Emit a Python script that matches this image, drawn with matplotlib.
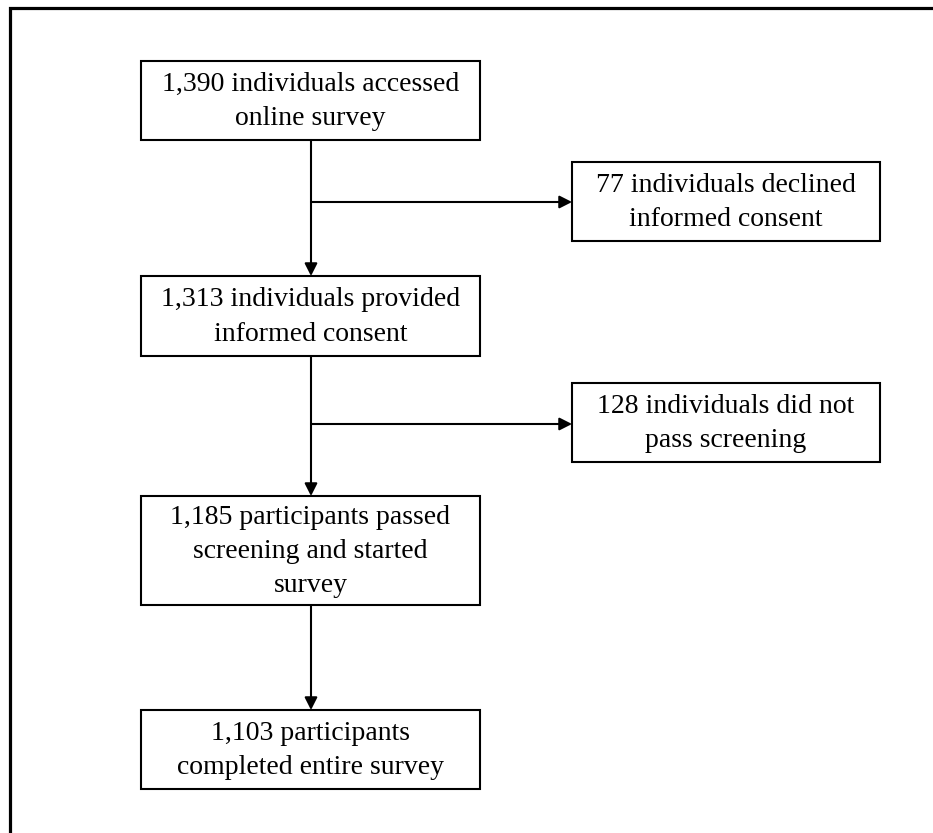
import matplotlib.pyplot as plt
from matplotlib.patches import Rectangle

# flowchart text
main_steps = ["1,390 individuals accessed\nonline survey",
              "1,313 individuals provided\ninformed consent",
              "1,185 participants passed\nscreening and started\nsurvey",
              "1,103 participants\ncompleted entire survey"]
exclusions = ["77 individuals declined\ninformed consent",
              "128 individuals did not\npass screening"]

# layout in pixels (y down)
main_x = (141, 480)
main_y = [(61, 140), (276, 356), (496, 605), (710, 789)]
excl_x = (572, 880)
excl_y = [(162, 241), (383, 462)]
branch_y = [202, 424]

fig = plt.figure(figsize=(9.33, 8.33), dpi=100)
ax = fig.add_axes([0, 0, 1, 1])
ax.set_xlim(0, 933)
ax.set_ylim(833, 0)
ax.axis('off')

font = dict(family=['Liberation Serif', 'DejaVu Serif'], fontsize=20,
            ha='center', va='center', linespacing=1.5)
lw = 1.5


def box(x0, x1, y0, y1, text):
    ax.add_patch(Rectangle((x0, y0), x1 - x0, y1 - y0, fill=False,
                           edgecolor='black', linewidth=lw))
    ax.text((x0 + x1) / 2, (y0 + y1) / 2 + 1, text, **font)


def arrow(x0, y0, x1, y1):
    ax.annotate('', xy=(x1, y1), xytext=(x0, y0),
                arrowprops=dict(arrowstyle='-|>,head_length=0.75,head_width=0.38',
                                color='black', lw=lw, shrinkA=0, shrinkB=0))


for (y0, y1), text in zip(main_y, main_steps):
    box(main_x[0], main_x[1], y0, y1, text)
for (y0, y1), text in zip(excl_y, exclusions):
    box(excl_x[0], excl_x[1], y0, y1, text)

cx = 311
for i in range(len(main_y) - 1):
    arrow(cx, main_y[i][1], cx, main_y[i + 1][0])
for by in branch_y:
    arrow(cx, by, excl_x[0], by)

# outer frame (top and left only)
ax.plot([10, 10, 933], [833, 8, 8], color='black', lw=2.3,
        solid_capstyle='butt', solid_joinstyle='miter')

fig.savefig('out.png', dpi=100)
